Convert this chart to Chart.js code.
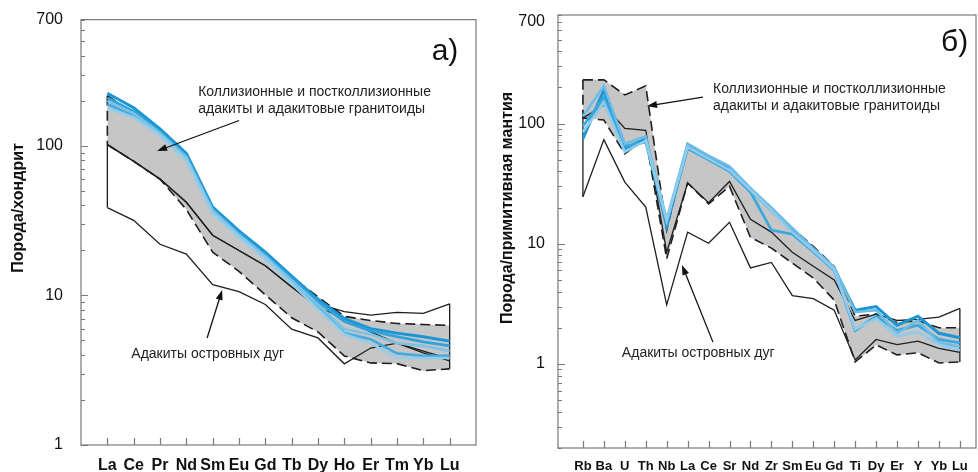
<!DOCTYPE html>
<html>
<head>
<meta charset="utf-8">
<script src="https://cdn.jsdelivr.net/npm/chart.js@4.4.0/dist/chart.umd.min.js"></script>
<style>
  html, body { margin: 0; padding: 0; background: #fff; }
  #wrap { position: relative; width: 978px; height: 472px; }
  .box { position: absolute; top: 0; height: 472px; }
</style>
</head>
<body>
<div id="wrap">
  <div class="box" style="left:0;width:490px"><canvas id="chartA"></canvas></div>
  <div class="box" style="left:490px;width:488px"><canvas id="chartB"></canvas></div>
</div>
<script>
// ---- panel a) : chondrite normalised REE ----
const reeNames = ['La', 'Ce', 'Pr', 'Nd', 'Sm', 'Eu', 'Gd', 'Tb', 'Dy', 'Ho', 'Er', 'Tm', 'Yb', 'Lu'];
const yTicksA = [1, 10, 100, 700];

const reeEnvUpper = [217, 165, 125, 83, 37.6, 26.5, 18.9, 13.3, 9.8, 7.25, 6.8, 6.5, 6.4, 6.3];
const reeEnvLower = [102, 79, 60, 37.6, 19.5, 14.5, 10.1, 7.1, 5.7, 3.94, 3.54, 3.5, 3.14, 3.23];

const reeArc1 = [102, 79, 60, 42, 25.3, 20, 15.8, 11.4, 8.8, 7.8, 7.4, 7.7, 7.6, 8.8];
const reeArc2 = [102, 79, 60, 42, 25.3, 20, 15.8, 11.4, 8.3, 7.1, 5.7, 4.8, 4.25, 3.77];
const reeArc3 = [38.7, 31.8, 22, 18.9, 11.8, 10.6, 8.7, 5.95, 5.2, 3.49, 4.45, 4.8, 4.13, 3.65];

const reeBlue1 = [225, 180, 130, 89, 39, 27, 19.5, 13.5, 9.4, 7.0, 6.0, 5.6, 5.3, 4.95];
const reeBlue2 = [210, 170, 125, 86, 38, 26, 18.8, 13, 9.1, 6.7, 5.8, 5.3, 4.9, 4.6];
const reeBlue3 = [200, 165, 122, 84, 37, 25.5, 18.3, 12.6, 8.7, 5.95, 5.5, 4.8, 4.6, 4.25];
const reeBlue4 = [190, 160, 120, 82, 36, 25, 18, 12.2, 8.3, 5.6, 5.1, 4.1, 3.95, 3.94];
const reeBlue5 = [180, 155, 118, 80, 35.5, 24.5, 17.6, 12, 8.1, 5.5, 4.8, 3.82, 3.82, 3.82];

// ---- panel б) : primitive mantle normalised spidergram ----
const pmNames = ['Rb', 'Ba', 'U', 'Th', 'Nb', 'La', 'Ce', 'Sr', 'Nd', 'Zr', 'Sm', 'Eu', 'Gd', 'Ti', 'Dy', 'Er', 'Y', 'Yb', 'Lu'];
const yTicksB = [1, 10, 100, 700];

const pmEnvUpper = [231, 231, 173, 206, 13, 68, 52, 44, 29, 20, 13.5, 9.5, 6.5, 2.5, 2.6, 2.2, 2.3, 2.0, 2.0];
const pmEnvLower = [111, 107, 56, 76, 7.5, 32, 21.5, 30, 11.3, 9.2, 6.9, 5.2, 3.4, 1.04, 1.44, 1.19, 1.24, 1.02, 1.04];

const pmArc1 = [111, 143, 91, 88, 8.5, 32, 22, 33, 16, 12.5, 8.5, 6.5, 5.0, 2.3, 2.6, 2.3, 2.35, 2.45, 2.9];
const pmArc2 = [24.6, 73.5, 32.6, 20.2, 3.1, 12.5, 10.1, 15.1, 6.3, 7.0, 3.7, 3.5, 2.8, 1.08, 1.6, 1.45, 1.55, 1.35, 1.25];

const pmBlue1 = [75, 190, 62, 75, 14, 66, 52, 42, 28, 19, 13, 9, 6.2, 2.8, 3.0, 2.1, 2.5, 1.8, 1.65];
const pmBlue2 = [95, 165, 65, 70, 15, 62, 50, 40, 27, 13, 12, 8.6, 6.0, 1.9, 2.5, 1.9, 2.1, 1.6, 1.5];
const pmBlue3 = [115, 205, 68, 78, 16, 68, 54, 44, 29, 20, 13.5, 9.2, 6.4, 2.7, 2.8, 1.8, 2.3, 1.5, 1.4];
const pmBlue4 = [85, 150, 58, 72, 15.5, 64, 51, 41, 28, 19, 12.5, 8.8, 6.1, 1.95, 2.4, 1.7, 1.85, 1.45, 1.3];

const FONT = 'Liberation Sans, Arial, sans-serif';

function pts(vals) {
    return vals.map((v, i) => ({ x: i, y: v }));
}

function line(data, color, width, dash) {
    return {
        data: data,
        borderColor: color,
        borderWidth: width,
        borderDash: dash || [],
        pointRadius: 0,
        tension: 0,
        fill: false
    };
}

const DASH = [10, 5];
const BLACK = '#1e1e1e';

const decor = {
    id: 'decor',
    afterDraw(chart, args, o) {
        const ctx = chart.ctx;
        const a = chart.chartArea;
        const xs = chart.scales.x;
        const ys = chart.scales.y;
        ctx.save();

        // frame + inside ticks
        ctx.strokeStyle = '#7a7a7a';
        ctx.lineWidth = 1.2;
        ctx.strokeRect(a.left, a.top, a.right - a.left, a.bottom - a.top);
        ctx.beginPath();
        o.names.forEach((n, i) => {
            const px = Math.round(xs.getPixelForValue(i)) + 0.5;
            ctx.moveTo(px, a.bottom);
            ctx.lineTo(px, a.bottom - 7);
        });
        for (let d = 0.1; d < 1000; d *= 10) {
            for (let k = 1; k < 10; k++) {
                const v = +(d * k).toPrecision(2);
                if (v < ys.min || v > ys.max) continue;
                const py = Math.round(ys.getPixelForValue(v)) + 0.5;
                ctx.moveTo(a.left, py);
                ctx.lineTo(a.left + (k === 1 ? 7 : 4), py);
            }
        }
        ctx.stroke();

        // y title
        ctx.fillStyle = '#111';
        ctx.font = 'bold 16px ' + FONT;
        ctx.textAlign = 'center';
        ctx.textBaseline = 'middle';
        ctx.save();
        ctx.translate(o.titleX, o.titleY);
        ctx.rotate(-Math.PI / 2);
        ctx.fillText(o.title, 0, 0);
        ctx.restore();

        // panel letter
        ctx.font = '30px ' + FONT;
        ctx.textAlign = 'right';
        ctx.fillText(o.panel.text, xs.getPixelForValue(o.panel.x), ys.getPixelForValue(o.panel.y));

        // notes
        ctx.font = '14px ' + FONT;
        ctx.textAlign = 'left';
        ctx.fillStyle = '#222';
        o.notes.forEach(n => {
            const px = xs.getPixelForValue(n.x);
            const py = ys.getPixelForValue(n.y);
            n.lines.forEach((t, j) => ctx.fillText(t, px, py + j * 17));
        });

        // arrows
        ctx.strokeStyle = '#111';
        ctx.fillStyle = '#111';
        ctx.lineWidth = 1.3;
        o.arrows.forEach(ar => {
            const x1 = xs.getPixelForValue(ar.from[0]), y1 = ys.getPixelForValue(ar.from[1]);
            const x2 = xs.getPixelForValue(ar.to[0]), y2 = ys.getPixelForValue(ar.to[1]);
            const ang = Math.atan2(y2 - y1, x2 - x1);
            ctx.beginPath();
            ctx.moveTo(x1, y1);
            ctx.lineTo(x2 - 6 * Math.cos(ang), y2 - 6 * Math.sin(ang));
            ctx.stroke();
            ctx.beginPath();
            ctx.moveTo(x2, y2);
            ctx.lineTo(x2 - 10 * Math.cos(ang) + 3.5 * Math.sin(ang), y2 - 10 * Math.sin(ang) - 3.5 * Math.cos(ang));
            ctx.lineTo(x2 - 10 * Math.cos(ang) - 3.5 * Math.sin(ang), y2 - 10 * Math.sin(ang) + 3.5 * Math.cos(ang));
            ctx.closePath();
            ctx.fill();
        });
        ctx.restore();
    }
};

function spider(id, p) {
    const last = p.names.length - 1;
    const datasets = [];
    p.blues.forEach(b => datasets.push(line(pts(b.vals), b.color, b.width)));
    p.arcs.forEach(v => datasets.push(line(pts(v), BLACK, 1.3)));
    // closing verticals at both ends
    datasets.push(line([{ x: 0, y: p.envUpper[0] }, { x: 0, y: p.envLower[0] }], BLACK, 1.6, DASH));
    datasets.push(line([{ x: 0, y: p.envLower[0] }, { x: 0, y: p.arcs[p.arcs.length - 1][0] }], BLACK, 1.3));
    datasets.push(line([{ x: last, y: p.arcs[0][last] }, { x: last, y: p.envLower[last] }], BLACK, 1.3));
    // grey envelope
    const up = line(pts(p.envUpper), BLACK, 1.6, DASH);
    up.fill = '+1';
    up.backgroundColor = '#c6c6c6';
    datasets.push(up);
    datasets.push(line(pts(p.envLower), BLACK, 1.6, DASH));

    return new Chart(document.getElementById(id), {
        type: 'line',
        data: { datasets: datasets },
        options: {
            responsive: true,
            maintainAspectRatio: false,
            animation: false,
            layout: { padding: p.padding },
            plugins: {
                legend: { display: false },
                tooltip: { enabled: false },
                filler: { drawTime: 'beforeDatasetsDraw' },
                decor: p.decor
            },
            scales: {
                x: {
                    type: 'linear',
                    min: p.xMin,
                    max: p.xMax,
                    grid: { display: false },
                    border: { display: false },
                    afterBuildTicks: s => { s.ticks = p.names.map((n, i) => ({ value: i })); },
                    afterFit: s => { s.height = p.xHeight; },
                    ticks: {
                        autoSkip: false,
                        maxRotation: 0,
                        padding: p.xPad,
                        color: '#111',
                        font: { family: FONT, size: p.xFont, weight: 'bold' },
                        callback: v => p.names[v]
                    }
                },
                y: {
                    type: 'logarithmic',
                    min: p.yMin,
                    max: p.yMax,
                    grid: { display: false },
                    border: { display: false },
                    afterBuildTicks: s => { s.ticks = p.yTicks.map(v => ({ value: v })); },
                    afterFit: s => { s.width = p.yWidth; },
                    ticks: {
                        padding: p.yPad,
                        color: '#111',
                        font: { family: FONT, size: 16 },
                        callback: v => String(v)
                    }
                }
            }
        },
        plugins: [decor]
    });
}

spider('chartA', {
    names: reeNames,
    yTicks: yTicksA,
    envUpper: reeEnvUpper,
    envLower: reeEnvLower,
    arcs: [reeArc1, reeArc2, reeArc3],
    blues: [
        { vals: reeBlue5, color: '#93cdea', width: 2.6 },
        { vals: reeBlue3, color: '#7cc2e6', width: 2.6 },
        { vals: reeBlue4, color: '#45abdf', width: 2.8 },
        { vals: reeBlue2, color: '#2fa2db', width: 2.8 },
        { vals: reeBlue1, color: '#1a96d4', width: 3 }
    ],
    xMin: -1, xMax: 14, yMin: 1, yMax: 700,
    xHeight: 27, xPad: 3, xFont: 16,
    yWidth: 81, yPad: 10,
    padding: { top: 15, right: 14, left: 0, bottom: 0 },
    decor: {
        names: reeNames,
        title: 'Порода/хондрит',
        titleX: 19, titleY: 208,
        panel: { text: 'а)', x: 13.33, y: 430 },
        notes: [
            { lines: ['Коллизионные и постколлизионные', 'адакиты и адакитовые гранитоиды'], x: 3.45, y: 230 },
            { lines: ['Адакиты островных дуг'], x: 0.91, y: 4.06 }
        ],
        arrows: [
            { from: [5.0, 148], to: [1.89, 92.4] },
            { from: [3.79, 5.19], to: [4.36, 10.9] }
        ]
    }
});

spider('chartB', {
    names: pmNames,
    yTicks: yTicksB,
    envUpper: pmEnvUpper,
    envLower: pmEnvLower,
    arcs: [pmArc1, pmArc2],
    blues: [
        { vals: pmBlue4, color: '#8fcbea', width: 2.6 },
        { vals: pmBlue3, color: '#6dbce6', width: 2.6 },
        { vals: pmBlue2, color: '#3aa8df', width: 2.8 },
        { vals: pmBlue1, color: '#1a96d4', width: 3 }
    ],
    xMin: -1.19, xMax: 18.77, yMin: 0.2, yMax: 800,
    xHeight: 24, xPad: 3, xFont: 13,
    yWidth: 68, yPad: 5,
    padding: { top: 15, right: 2, left: 0, bottom: 0 },
    decor: {
        names: pmNames,
        title: 'Порода/примитивная мантия',
        titleX: 18, titleY: 208,
        panel: { text: 'б)', x: 18.4, y: 468 },
        notes: [
            { lines: ['Коллизионные и постколлизионные', 'адакиты и адакитовые гранитоиды'], x: 6.21, y: 194 },
            { lines: ['Адакиты островных дуг'], x: 1.86, y: 1.23 }
        ],
        arrows: [
            { from: [5.73, 166], to: [3.06, 140] },
            { from: [6.21, 1.52], to: [4.73, 6.66] }
        ]
    }
});
</script>
</body>
</html>
